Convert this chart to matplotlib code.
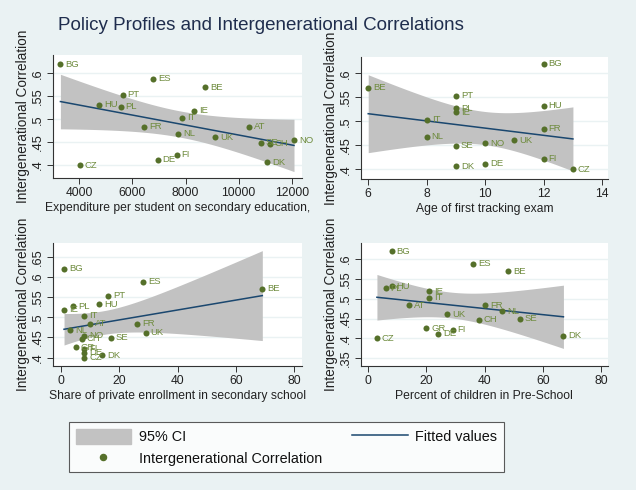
import numpy
import matplotlib
matplotlib.use("Agg")
import matplotlib.pyplot as plt
import matplotlib.patches as mpatches
from matplotlib.lines import Line2D

plt.rcParams['font.family'] = ['Liberation Sans', 'DejaVu Sans']

# intergenerational correlation by country
countries = ["BG", "ES", "BE", "PT", "HU", "PL", "IE", "IT", "FR", "AT",
             "NL", "UK", "NO", "SE", "CH", "GR", "FI", "DE", "DK", "CZ"]
igc = [.620, .588, .570, .553, .532, .527, .519, .503, .484, .484,
       .468, .461, .454, .449, .447, .425, .422, .412, .406, .400]

# panel 1: expenditure per student
exp_countries = ["BG", "ES", "BE", "PT", "HU", "PL", "IE", "IT", "FR", "AT",
                 "NL", "UK", "NO", "SE", "CH", "DK", "FI", "DE", "CZ"]
exp_values = [3290, 6780, 8740, 5630, 4740, 5560, 8320, 7860, 6450, 10370,
              7710, 9110, 12080, 10820, 11160, 11060, 7660, 6950, 4010]

# panel 2: age of first tracking
track_countries = ["BG", "BE", "PT", "PL", "IE", "HU", "IT", "FR",
                   "NL", "UK", "NO", "SE", "FI", "DE", "DK", "CZ"]
track_values = [12, 6, 9, 9, 9, 12, 8, 12, 8, 11, 10, 9, 12, 10, 9, 13]

# panel 3: share of private enrollment
priv_countries = ["BG", "ES", "BE", "PT", "HU", "PL", "IE", "IT", "AT", "FR",
                  "UK", "NL", "NO", "CH", "SE", "GR", "FI", "DE", "CZ", "DK"]
priv_values = [1, 28, 69, 16, 13, 4, 1, 8, 10, 26,
               29, 3, 8, 7, 17, 5, 8, 8, 8, 14]

# panel 4: percent in pre-school
pre_countries = ["BG", "ES", "BE", "HU", "PL", "IE", "IT", "AT", "FR",
                 "NL", "UK", "CH", "SE", "GR", "FI", "DE", "DK", "CZ"]
pre_values = [8, 36, 48, 8, 6, 21, 21, 14, 40, 46, 27, 38, 52, 20, 29, 24, 67, 3]

t_table = {14: 2.145, 15: 2.131, 16: 2.120, 17: 2.110, 18: 2.101}

bg = '#EAF2F3'
dot_col = '#55702A'
lab_col = '#6E8B3D'
fit_col = '#1A476F'
ci_col = '#C2C2C2'


def fit_ci(x, y):
    x = numpy.array(x, float)
    y = numpy.array(y, float)
    b1, b0 = numpy.polyfit(x, y, 1)
    xs = numpy.linspace(x.min(), x.max(), 100)
    n = len(x)
    s = numpy.sqrt(numpy.sum((y - (b1 * x + b0)) ** 2) / (n - 2))
    sxx = numpy.sum((x - x.mean()) ** 2)
    se = s * numpy.sqrt(1.0 / n + (xs - x.mean()) ** 2 / sxx)
    t = t_table[n - 2]
    fit = b1 * xs + b0
    return xs, fit, fit - t * se, fit + t * se


def panel(rect, names, xvals, xlabel, xticks, yticks, xlim, ylim):
    ax = fig.add_axes(rect)
    ax.set_facecolor('white')
    yvals = [igc[countries.index(c)] for c in names]
    xs, fit, lo, hi = fit_ci(xvals, yvals)
    ax.fill_between(xs, lo, hi, color=ci_col, lw=0, zorder=1)
    ax.plot(xs, fit, color=fit_col, lw=1.1, zorder=2)
    ax.scatter(xvals, yvals, s=19, color=dot_col, zorder=3, lw=0)
    for c, xv, yv in zip(names, xvals, yvals):
        ax.annotate(c, (xv, yv), xytext=(3.6, 0), textcoords='offset points',
                    va='center', ha='left', fontsize=6.8, color=lab_col, zorder=4)
    ax.set_xlim(xlim)
    ax.set_ylim(ylim)
    ax.set_xticks(xticks)
    ax.set_yticks(yticks)
    ax.set_yticklabels([('%g' % v).lstrip('0') for v in yticks])
    for lab in ax.get_yticklabels():
        lab.set_rotation(90)
        lab.set_va('center')
    ax.tick_params(axis='x', labelsize=8.7, length=4, width=0.7, pad=2.5,
                   color='#333333', labelcolor='#222222')
    ax.tick_params(axis='y', labelsize=9.3, length=4, width=0.7, pad=2.5,
                   color='#333333', labelcolor='#222222')
    ax.grid(axis='y', color=bg, lw=1.0)
    ax.set_axisbelow(True)
    for side in ['top', 'right']:
        ax.spines[side].set_visible(False)
    for side in ['left', 'bottom']:
        ax.spines[side].set_color('#333333')
        ax.spines[side].set_linewidth(0.8)
    ax.set_xlabel(xlabel, fontsize=8.7, color='#222222', labelpad=2)
    ax.set_ylabel('Intergenerational Correlation', fontsize=9.8,
                  color='#222222', labelpad=1.5)
    return ax


fig = plt.figure(figsize=(6.36, 4.9), dpi=100, facecolor=bg)

panel([.0833, .636, .3915, .2516], exp_countries, exp_values,
      'Expenditure per student on secondary education,',
      [4000, 6000, 8000, 10000, 12000], [.4, .45, .5, .55, .6],
      (3010, 12380), (.371, .640))
panel([.567, .634, .389, .2496], track_countries, track_values,
      'Age of first tracking exam',
      [6, 8, 10, 12, 14], [.4, .45, .5, .55, .6],
      (5.74, 14.2), (.379, .634))
panel([.0828, .253, .392, .2504], priv_countries, priv_values,
      'Share of private enrollment in secondary school',
      [0, 20, 40, 60, 80], [.4, .45, .5, .55, .6, .65],
      (-2.9, 82.6), (.379, .683))
panel([.567, .253, .389, .2504], pre_countries, pre_values,
      'Percent of children in Pre-School',
      [0, 20, 40, 60, 80], [.35, .4, .45, .5, .55, .6],
      (-2.6, 82.3), (.330, .640))

fig.text(58 / 636, 1 - 26 / 490, 'Policy Profiles and Intergenerational Correlations',
         fontsize=13.5, color='#1F2D4D', va='center', ha='left')

ci_patch = mpatches.Patch(color=ci_col, label='95% CI')
dot_handle = Line2D([], [], ls='none', marker='o', markersize=4.4,
                    color=dot_col, label='Intergenerational Correlation')
fit_handle = Line2D([], [], color=fit_col, lw=1.1, label='Fitted values')
leg = fig.legend(handles=[ci_patch, dot_handle, fit_handle], ncol=2,
                 loc='upper left', bbox_to_anchor=(69 / 636, 1 - 422 / 490),
                 borderaxespad=0, fontsize=10.4, frameon=True, fancybox=False,
                 handlelength=3.85, handleheight=1.25, handletextpad=0.55,
                 labelspacing=0.45, columnspacing=2.05, borderpad=0.45)
leg.get_frame().set_edgecolor('#333333')
leg.get_frame().set_linewidth(0.8)
for t in leg.get_texts():
    t.set_color('#111111')

fig.savefig('out.png', dpi=100, facecolor=bg)
